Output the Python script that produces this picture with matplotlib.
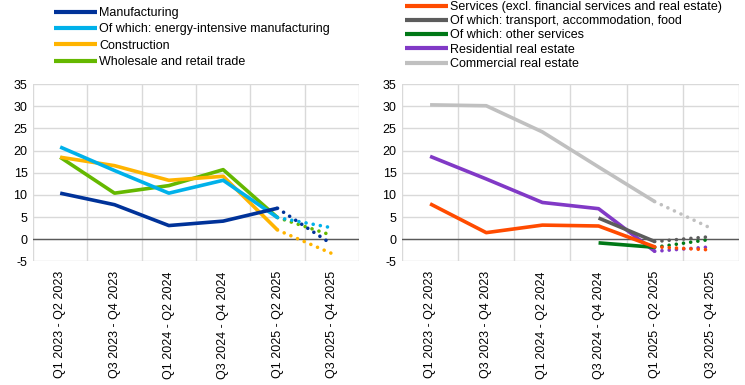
import matplotlib.pyplot as plt
import numpy as np

plt.rcParams['font.family'] = ['Liberation Sans', 'DejaVu Sans']
plt.rcParams['font.size'] = 9
plt.rcParams['axes.unicode_minus'] = False

# periodes (semestres)
periodes = ['Q1 2023 - Q2 2023', 'Q3 2023 - Q4 2023', 'Q1 2024 - Q2 2024',
            'Q3 2024 - Q4 2024', 'Q1 2025 - Q2 2025', 'Q3 2025 - Q4 2025']

# panneau gauche
manufacturing = [10.4, 7.8, 3.1, 4.1, 7.0, -1.1]
energy_intensive = [20.8, 15.5, 10.4, 13.3, 4.9, 2.6]
construction = [18.5, 16.6, 13.3, 14.2, 2.1, -3.2]
wholesale = [18.5, 10.4, 12.1, 15.7, 4.9, 0.9]

# panneau droit
services = [8.0, 1.5, 3.2, 3.0, -1.7, -2.4]
transport = [np.nan, np.nan, np.nan, 4.8, -0.5, 0.6]
other_services = [np.nan, np.nan, np.nan, -0.8, -1.8, 0.0]
residential = [18.7, 13.6, 8.3, 6.9, -2.7, -1.7]
commercial = [30.3, 30.1, 24.2, 16.3, 8.5, 2.5]

gauche = [
    ('Manufacturing', manufacturing, '#003299'),
    ('Of which: energy-intensive manufacturing', energy_intensive, '#00B1EA'),
    ('Construction', construction, '#FFB400'),
    ('Wholesale and retail trade', wholesale, '#65B800'),
]
droite = [
    ('Services (excl. financial services and real estate)', services, '#FF4B00'),
    ('Of which: transport, accommodation, food', transport, '#5C5C5C'),
    ('Of which: other services', other_services, '#007816'),
    ('Residential real estate', residential, '#8139C6'),
    ('Commercial real estate', commercial, '#C0C0C0'),
]

fig = plt.figure(figsize=(7.45, 3.85), dpi=100)
ax1 = fig.add_axes([0.0443, 0.3208, 0.4376, 0.461])
ax2 = fig.add_axes([0.5396, 0.3208, 0.4523, 0.461])

x = np.arange(len(periodes))


def panneau(ax, series, legende_pos, espacement):
    handles = []
    # ordre inverse pour que la premiere serie soit dessus
    for nom, valeurs, couleur in series[::-1]:
        v = np.array(valeurs, dtype=float)
        h, = ax.plot(x[:5], v[:5], color=couleur, lw=2.6, solid_capstyle='butt', label=nom)
        ax.plot(x[4:], v[4:], color=couleur, lw=2.6, linestyle=(0, (0.01, 2.0)),
                dash_capstyle='round')
        handles.append(h)
    handles = handles[::-1]

    ax.set_xlim(-0.5, 5.5)
    ax.set_ylim(-5, 35)
    ax.set_yticks(np.arange(-5, 36, 5))
    ax.set_xticks(x)
    ax.set_xticklabels(periodes, rotation=90)
    ax.set_xticks(np.arange(-0.5, 6, 1), minor=True)
    ax.grid(True, which='minor', axis='x', color='#D9D9D9', lw=1)
    ax.grid(True, which='major', axis='y', color='#D9D9D9', lw=1)
    ax.set_axisbelow(True)
    ax.axhline(0, color='#595959', lw=1, zorder=1.5)
    for s in ax.spines.values():
        s.set_visible(False)
    ax.tick_params(axis='both', which='both', length=0, colors='#000000', labelsize=9)
    ax.tick_params(axis='x', pad=7)
    ax.tick_params(axis='y', pad=4)

    leg = ax.legend(handles=handles, loc='lower left', bbox_to_anchor=legende_pos,
                    frameon=False, handlelength=3.4, handletextpad=0.2,
                    labelspacing=espacement, borderaxespad=0, borderpad=0, fontsize=9)
    for l in leg.get_lines():
        l.set_linewidth(3)


panneau(ax1, gauche, (0.065, 1.09), 0.35)
panneau(ax2, droite, (0.01, 1.079), 0.18)

plt.savefig('out.png', dpi=100)
